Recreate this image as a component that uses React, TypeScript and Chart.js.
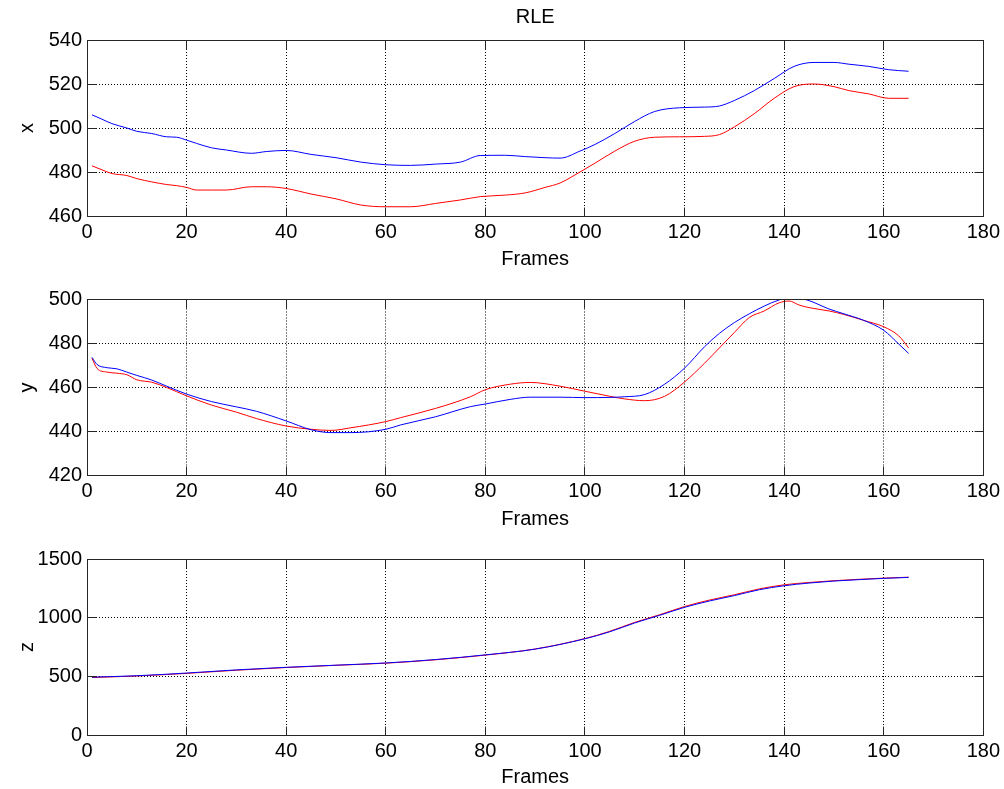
import React, { useEffect, useRef } from "react";
import { Chart, registerables } from "chart.js";

Chart.register(...registerables);

const FONT = "'Liberation Sans', Arial, Helvetica, sans-serif";

// ---- Data ----
const titleText = "RLE";
const xAxisLabel = "Frames";

const frameTicks = [0, 20, 40, 60, 80, 100, 120, 140, 160, 180];

// subplot 1: x
const xFrames = [1, 3, 5, 8, 10, 13, 16, 18, 20, 22, 25, 28, 33, 36, 40, 45, 50, 55, 60, 65, 70, 75, 79, 84, 88, 92, 95, 99, 102, 106, 110, 114, 119, 124, 127, 130, 134, 138, 142, 146, 150, 153, 157, 161, 165];
const xBlue = [506, 504, 502, 500, 498.5, 497.5, 496, 495.8, 494.5, 493, 491, 490, 488.5, 489.3, 489.8, 488, 486.5, 484.5, 483.3, 483, 483.6, 484.5, 487.5, 487.6, 487, 486.5, 486.3, 489.5, 492.5, 497.5, 503, 507.5, 509.2, 509.5, 510, 512.5, 517, 522.5, 528, 529.8, 529.8, 529, 528, 526.5, 525.8];
const xRed = [482.8, 481, 479.3, 478.4, 477, 475.5, 474.3, 473.8, 473, 471.8, 471.8, 471.8, 473.3, 473.3, 472.5, 470, 467.8, 465, 464.2, 464.2, 465.7, 467.3, 468.8, 469.5, 470.5, 473, 475, 480, 484, 489.5, 494, 495.8, 496, 496.2, 497, 500.5, 506.5, 513.5, 518.8, 520, 518.8, 517, 515.5, 513.5, 513.5];
const xTicksY = [460, 480, 500, 520, 540];

// subplot 2: y
const yFrames = [1, 2, 4, 6, 8, 10, 13, 16, 20, 25, 30, 34, 40, 45, 49, 53, 60, 63, 70, 77, 80, 85, 89, 95, 100, 105, 108, 112, 116, 120, 124, 127, 130, 133, 136, 139, 141, 143, 145, 149, 152, 156, 160, 163, 165];
const yBlue = [473.7, 470.5, 469, 468.5, 467, 465.5, 463.4, 460.6, 457, 453.6, 451.2, 449.2, 444.8, 440.8, 439.5, 439.5, 441, 443, 446.7, 451.3, 452.5, 454.6, 455.6, 455.6, 455.4, 455.5, 455.8, 456.8, 461.5, 468.8, 478.5, 484.6, 489.5, 493.5, 497, 499.8, 500.8, 500.6, 499.5, 495.7, 493.5, 490.5, 486, 479.8, 475.5];
const yRed = [473.3, 468.7, 467, 466.5, 465.8, 463.5, 462.4, 460, 456.2, 452, 448.8, 445.9, 442.5, 441, 440.5, 441.7, 444.5, 446.3, 450.5, 455.8, 459, 461.5, 462.3, 460.6, 458.3, 456, 454.8, 454, 456, 462.5, 471, 478, 485, 491.8, 494.8, 498.5, 499.3, 497.5, 496.3, 494.8, 493.2, 490.5, 487.6, 483.5, 478];
const yTicksY = [420, 440, 460, 480, 500];

// subplot 3: z
const zFrames = [1, 10, 20, 30, 40, 50, 60, 70, 80, 90, 100, 105, 110, 115, 120, 125, 130, 135, 140, 145, 150, 155, 160, 165];
const zBlue = [493, 505, 528, 555, 577, 595, 614, 643, 683, 732, 820, 880, 955, 1020, 1088, 1142, 1188, 1238, 1272, 1295, 1312, 1324, 1335, 1343];
const zRed = [490, 503, 525, 552, 575, 594, 612, 641, 681, 733, 822, 884, 960, 1025, 1095, 1150, 1195, 1245, 1280, 1300, 1315, 1327, 1337, 1345];
const zTicksY = [0, 500, 1000, 1500];

const BLUE = "#0000ff";
const RED = "#ff0000";

const align = (p: number) => Math.round(p - 0.5) + 0.5;

// MATLAB-like box with inward tick marks
const boxPlugin = {
  id: "matlabBox",
  afterDraw(chart: any) {
    const { ctx, chartArea: a, scales } = chart;
    const L = align(a.left), R = align(a.right), T = align(a.top), B = align(a.bottom);
    const len = 9;
    ctx.save();
    ctx.lineWidth = 1;
    ctx.strokeStyle = "#262626";
    ctx.setLineDash([]);
    ctx.beginPath();
    scales.x.ticks.forEach((t: any) => {
      const px = align(scales.x.getPixelForValue(t.value));
      ctx.moveTo(px, B); ctx.lineTo(px, B - len);
      ctx.moveTo(px, T); ctx.lineTo(px, T + len);
    });
    scales.y.ticks.forEach((t: any) => {
      const py = align(scales.y.getPixelForValue(t.value));
      ctx.moveTo(L, py); ctx.lineTo(L + len, py);
      ctx.moveTo(R, py); ctx.lineTo(R - len, py);
    });
    ctx.stroke();
    ctx.strokeRect(L, T, R - L, B - T);
    ctx.restore();
  },
};

type SubplotProps = {
  top: number;
  height: number;
  padTop: number;
  xAxisH: number;
  xTitlePad: number;
  yLabel: string;
  frames: number[];
  blue: number[];
  red: number[];
  yTicks: number[];
  title?: string;
};

function Subplot(p: SubplotProps) {
  const ref = useRef<HTMLCanvasElement | null>(null);
  useEffect(() => {
    if (!ref.current) return;
    const font = { family: FONT, size: 20, weight: "normal" as const, lineHeight: 1.2 };
    const yMin = p.yTicks[0];
    const yMax = p.yTicks[p.yTicks.length - 1];
    const yStep = p.yTicks[1] - p.yTicks[0];
    const plain = (v: any) => String(v);
    const chart = new Chart(ref.current, {
      type: "line",
      data: {
        datasets: [
          {
            data: p.frames.map((f, i) => ({ x: f, y: p.blue[i] })),
            borderColor: BLUE,
            borderWidth: 1,
            pointRadius: 0,
            fill: false,
            cubicInterpolationMode: "monotone",
          },
          {
            data: p.frames.map((f, i) => ({ x: f, y: p.red[i] })),
            borderColor: RED,
            borderWidth: 1,
            pointRadius: 0,
            fill: false,
            cubicInterpolationMode: "monotone",
          },
        ],
      },
      options: {
        animation: false,
        responsive: false,
        events: [],
        layout: { padding: { top: p.padTop, right: 20, bottom: 0, left: 0 } },
        plugins: {
          legend: { display: false },
          tooltip: { enabled: false },
          title: p.title
            ? {
                display: true,
                text: p.title,
                font,
                color: "#000",
                fullSize: false,
                padding: { top: 5, bottom: 11 },
              }
            : { display: false },
        },
        scales: {
          x: {
            type: "linear",
            min: frameTicks[0],
            max: frameTicks[frameTicks.length - 1],
            afterBuildTicks: (s: any) => {
              s.ticks = frameTicks.map((v) => ({ value: v }));
            },
            ticks: { font, color: "#000", padding: 4, maxRotation: 0, autoSkip: false, callback: plain },
            grid: { color: "#000", lineWidth: 1, drawTicks: false },
            border: { display: false, dash: [1, 2] },
            title: { display: true, text: xAxisLabel, font, color: "#000", padding: { top: 0, bottom: p.xTitlePad } },
            afterFit: (s: any) => {
              s.height = p.xAxisH;
            },
          },
          y: {
            type: "linear",
            min: yMin,
            max: yMax,
            afterBuildTicks: (s: any) => {
              s.ticks = p.yTicks.map((v) => ({ value: v }));
            },
            ticks: { font, color: "#000", padding: 5, stepSize: yStep, callback: plain },
            grid: { color: "#000", lineWidth: 1, drawTicks: false },
            border: { display: false, dash: [1, 2] },
            title: { display: true, text: p.yLabel, font, color: "#000", padding: { top: 15, bottom: 0 } },
            afterFit: (s: any) => {
              s.width = 87;
            },
          },
        },
      },
      plugins: [boxPlugin],
    } as any);
    return () => chart.destroy();
  }, []);
  return (
    <div style={{ position: "absolute", left: 0, top: p.top, width: 1004, height: p.height }}>
      <canvas ref={ref} width={1004} height={p.height} style={{ display: "block" }} />
    </div>
  );
}

export default function App() {
  useEffect(() => {
    document.body.style.margin = "0";
  }, []);
  return (
    <div style={{ position: "absolute", left: 0, top: 0, width: 1004, height: 789, background: "#fff", overflow: "hidden" }}>
      <Subplot top={0} height={280} padTop={0} xAxisH={64} xTitlePad={9} yLabel="x" frames={xFrames} blue={xBlue} red={xRed} yTicks={xTicksY} title={titleText} />
      <Subplot top={280} height={260} padTop={19.5} xAxisH={64.5} xTitlePad={9} yLabel="y" frames={yFrames} blue={yBlue} red={yRed} yTicks={yTicksY} />
      <Subplot top={540} height={249} padTop={19} xAxisH={54} xTitlePad={0} yLabel="z" frames={zFrames} blue={zBlue} red={zRed} yTicks={zTicksY} />
    </div>
  );
}
